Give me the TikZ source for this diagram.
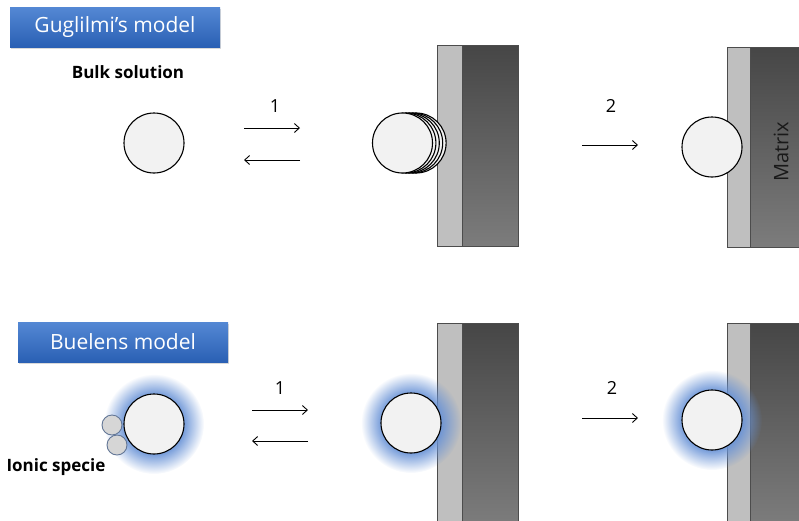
\documentclass[tikz,border=0pt]{standalone}
\usepackage{fontspec}
\setmainfont{Open Sans}
\usetikzlibrary{positioning,arrows.meta,shadows,fadings}

\definecolor{bannertop}{RGB}{84,136,212}
\definecolor{bannerbot}{RGB}{42,96,180}
\definecolor{glowblue}{RGB}{104,146,214}
\definecolor{layergray}{RGB}{191,191,191}
\definecolor{matrixtop}{RGB}{70,70,70}
\definecolor{matrixbot}{RGB}{124,124,124}
\definecolor{beadfill}{RGB}{242,242,242}
\definecolor{ionfill}{RGB}{214,214,214}
\definecolor{iondraw}{RGB}{98,118,150}

% soft halo round the beads
\pgfdeclareradialshading{glowshade}{\pgfpointorigin}{color(0bp)=(pgftransparent!0); color(15bp)=(pgftransparent!10); color(20bp)=(pgftransparent!55); color(25bp)=(pgftransparent!100); color(50bp)=(pgftransparent!100)}
\pgfdeclarefading{glowfade}{\pgfuseshading{glowshade}}

\begin{document}
\begin{tikzpicture}[x=1pt, y=-1pt,
    every node/.style={font=\fontsize{16}{19}\selectfont},
    banner/.style={minimum width=210pt, minimum height=40pt, inner sep=0pt,
                   top color=bannertop, bottom color=bannerbot, text=white,
                   font=\fontsize{21}{24}\selectfont,
                   drop shadow={shadow xshift=0.8pt, shadow yshift=-2pt, opacity=0.3}},
    label/.style={font=\fontsize{17}{20}\selectfont\bfseries},
    bead/.style={circle, draw=black, fill=beadfill, line width=1.1pt,
                 minimum size=60pt, inner sep=0pt},
    ion/.style={circle, draw=iondraw, fill=ionfill, line width=0.9pt,
                minimum size=20pt, inner sep=0pt},
    layer/.style={fill=layergray, draw=black!70, line width=0.7pt},
    matrix/.style={top color=matrixtop, bottom color=matrixbot, draw=black!70, line width=0.7pt},
    glow/.style={fill=glowblue, path fading=glowfade},
    num/.style={font=\fontsize{18}{21}\selectfont},
    arr/.style={-{Straight Barb[length=5pt, width=9pt]}, line width=0.9pt}
  ]
  \useasboundingbox (0,0) rectangle (799,520);

  % Guglilmi's model
  \node[banner] (gtitle) at (115,27) {Guglilmi’s model};
  \node[label] (bulk) at (128,72) {Bulk solution};

  \node[bead] (g1) at (154,143) {};

  \coordinate (ga1) at (244,128);  \coordinate (gb1) at (300,128);
  \coordinate (ga2) at (300,160);  \coordinate (gb2) at (244,160);
  \node[num] (gn1) at (275,106) {1};
  \draw[arr] (ga1) -- (gb1);
  \draw[arr] (ga2) -- (gb2);

  \filldraw[layer]  (437,45) rectangle (462,246);
  \filldraw[matrix] (462,45) rectangle (518,246);
  \foreach \dx [count=\i] in {13.6,10.2,6.8,3.4}
    \node[bead] (gs\i) at (402.5+\dx,143) {};
  \node[bead] (g2) at (402.5,143) {};

  \coordinate (gc1) at (582,145);  \coordinate (gd1) at (638,145);
  \node[num] (gn2) at (611,106) {2};
  \draw[arr] (gc1) -- (gd1);

  \filldraw[layer]  (727,47) rectangle (750,247);
  \filldraw[matrix] (750,47) rectangle (802,247);
  \node[rotate=90, text=black!90, font=\fontsize{20}{23}\selectfont] (mtx) at (781,152) {Matrix};
  \node[bead] (g3) at (712,147) {};

  % Buelens model
  \node[banner] (btitle) at (123,342) {Buelens model};

  \fill[glow] (154,424) circle (50);
  \node[bead] (b1) at (154,424) {};
  \node[ion] (i1) at (112,425) {};
  \node[ion] (i2) at (117,445) {};
  \node[label, anchor=west] (ionic) at (3,467) {Ionic specie};

  \coordinate (ba1) at (252,410);  \coordinate (bb1) at (308,410);
  \coordinate (ba2) at (308,441);  \coordinate (bb2) at (252,441);
  \node[num] (bn1) at (280,388) {1};
  \draw[arr] (ba1) -- (bb1);
  \draw[arr] (ba2) -- (bb2);

  \filldraw[layer]  (437,323) rectangle (462,524);
  \filldraw[matrix] (462,323) rectangle (518,524);
  \fill[glow] (411,423) circle (50);
  \node[bead] (b2) at (411,423) {};

  \coordinate (bc1) at (582,418);  \coordinate (bd1) at (638,418);
  \node[num] (bn2) at (612,388) {2};
  \draw[arr] (bc1) -- (bd1);

  \filldraw[layer]  (727,323) rectangle (750,524);
  \filldraw[matrix] (750,323) rectangle (802,524);
  \fill[glow] (712,420) circle (50);
  \node[bead] (b3) at (712,420) {};
\end{tikzpicture}
\end{document}
